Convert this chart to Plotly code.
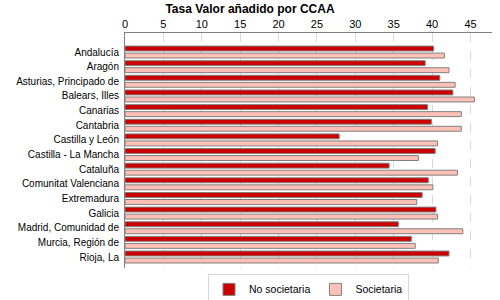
import plotly.graph_objects as go

# comunidades autonomas, top to bottom
ccaa = ['Andalucía', 'Aragón', 'Asturias, Principado de', 'Balears, Illes', 'Canarias',
        'Cantabria', 'Castilla y León', 'Castilla - La Mancha', 'Cataluña',
        'Comunitat Valenciana', 'Extremadura', 'Galicia', 'Madrid, Comunidad de',
        'Murcia, Región de', 'Rioja, La']
no_soc = [40.2, 39.1, 41.0, 42.7, 39.4, 39.9, 27.9, 40.4, 34.4, 39.5, 38.7, 40.5, 35.6, 37.3, 42.2]
soc = [41.6, 42.2, 43.0, 45.5, 43.8, 43.8, 40.7, 38.2, 43.3, 40.1, 38.0, 40.7, 44.0, 37.8, 40.8]
ticks = [0, 5, 10, 15, 20, 25, 30, 35, 40, 45]

fig = go.Figure()
fig.add_trace(go.Bar(y=ccaa, x=no_soc, orientation='h', name='No societaria',
                     marker=dict(color='#cc0000', line=dict(color='#808080', width=1))))
fig.add_trace(go.Bar(y=ccaa, x=soc, orientation='h', name='Societaria',
                     marker=dict(color='#ffc0b8', line=dict(color='#808080', width=1))))

fig.update_layout(
    width=500, height=300,
    margin=dict(l=125, r=8, t=33, b=32, autoexpand=False),
    paper_bgcolor='white', plot_bgcolor='white',
    font=dict(family='Liberation Sans, Arial', size=10, color='black'),
    title=dict(text='<b>Tasa Valor añadido por CCAA</b>', x=0.5, xanchor='center',
               y=0.985, yanchor='top', font=dict(size=12)),
    barmode='group', bargap=0.04, bargroupgap=0.3,
    showlegend=True,
    legend=dict(orientation='h', x=0.5, xanchor='center', y=-0.025, yanchor='top',
                bordercolor='#d8d8d8', borderwidth=1, font=dict(size=10.5),
                itemwidth=30, traceorder='normal', tracegroupgap=0),
)
fig.update_xaxes(side='top', range=[0, 47.8], tickvals=ticks, showgrid=True,
                 gridcolor='#d8d8d8', griddash='dash', showline=True, linecolor='#808080',
                 linewidth=1, zeroline=False, ticks='', automargin=False,
                 tickfont=dict(size=11))
fig.update_yaxes(type='category', range=[14.75, -1.3], showline=True, linecolor='#808080',
                 linewidth=1, ticks='', ticklabelstandoff=3, showgrid=False,
                 automargin=False, tickfont=dict(size=10))

# the page body has a default margin; drop it so the chart sits at the corner
fig.write_html("out.html", config={'displayModeBar': False},
               post_script="document.body.style.margin='0';")
